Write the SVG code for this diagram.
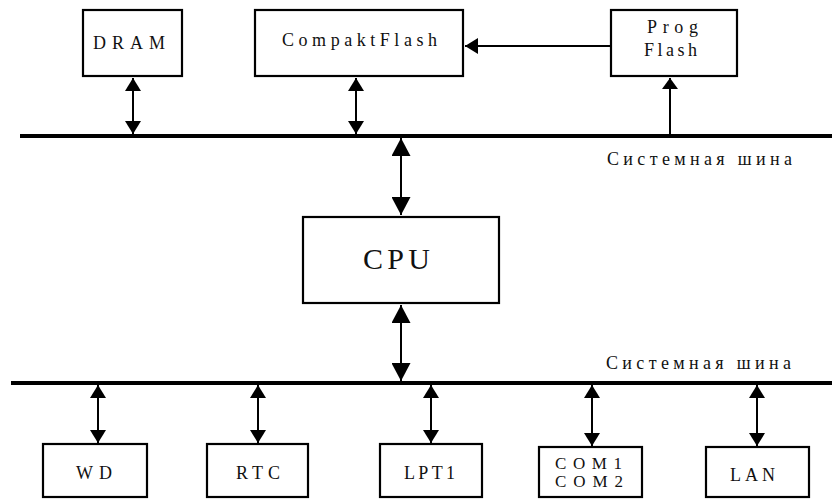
<svg xmlns="http://www.w3.org/2000/svg" width="832" height="499" viewBox="0 0 832 499">
<style>
.box{fill:#fff;stroke:#000;stroke-width:2.2}
.bus{stroke:#000;stroke-width:4}
.ln{stroke:#000;stroke-width:2;fill:none}
</style>
<defs>
<marker id="a" markerUnits="userSpaceOnUse" markerWidth="13" markerHeight="16" refX="13" refY="8" orient="auto-start-reverse"><path d="M0,0 L13,8 L0,16 z" fill="#000"/></marker>
<marker id="b" markerUnits="userSpaceOnUse" markerWidth="18" markerHeight="19" refX="18" refY="9.5" orient="auto-start-reverse"><path d="M0,0 L18,9.5 L0,19 z" fill="#000"/></marker>
<marker id="c" markerUnits="userSpaceOnUse" markerWidth="11" markerHeight="16" refX="11" refY="8" orient="auto-start-reverse"><path d="M0,0 L11,8 L0,16 z" fill="#000"/></marker>
</defs>
<g font-family="Liberation Serif, Times New Roman, serif" font-size="18" fill="#111">
<g id="buses">
<line class="bus" x1="20" y1="136" x2="832" y2="136"/>
<line class="bus" x1="11" y1="383" x2="832" y2="383"/>
<text id="bus1-label" x="607" y="165" textLength="185" lengthAdjust="spacing">Системная шина</text>
<text id="bus2-label" x="606" y="369" textLength="185" lengthAdjust="spacing">Системная шина</text>
</g>
<g id="connectors">
<line class="ln" x1="133" y1="78" x2="133" y2="134" marker-start="url(#a)" marker-end="url(#a)"/>
<line class="ln" x1="356" y1="78" x2="356" y2="134" marker-start="url(#a)" marker-end="url(#a)"/>
<line class="ln" x1="670" y1="134" x2="670" y2="78" marker-end="url(#c)"/>
<line class="ln" x1="610" y1="46" x2="465" y2="46" marker-end="url(#a)"/>
<line class="ln" x1="401" y1="138" x2="401" y2="215" marker-start="url(#b)" marker-end="url(#b)"/>
<line class="ln" x1="401" y1="305" x2="401" y2="381" marker-start="url(#b)" marker-end="url(#b)"/>
<line class="ln" x1="98" y1="385" x2="98" y2="443" marker-start="url(#a)" marker-end="url(#a)"/>
<line class="ln" x1="258" y1="385" x2="258" y2="443" marker-start="url(#a)" marker-end="url(#a)"/>
<line class="ln" x1="431" y1="385" x2="431" y2="443" marker-start="url(#a)" marker-end="url(#a)"/>
<line class="ln" x1="592" y1="385" x2="592" y2="446" marker-start="url(#a)" marker-end="url(#a)"/>
<line class="ln" x1="757" y1="385" x2="757" y2="446" marker-start="url(#a)" marker-end="url(#a)"/>
</g>
<g id="dram"><rect class="box" x="83" y="10" width="99" height="66"/><text x="93" y="49" textLength="72" lengthAdjust="spacing">DRAM</text></g>
<g id="compaktflash"><rect class="box" x="255" y="10" width="208" height="66"/><text x="282" y="46" textLength="155" lengthAdjust="spacing">CompaktFlash</text></g>
<g id="progflash"><rect class="box" x="611" y="10" width="126" height="66"/><text x="647" y="33" textLength="51" lengthAdjust="spacing">Prog</text><text x="644" y="56" textLength="53" lengthAdjust="spacing">Flash</text></g>
<g id="cpu"><rect class="box" x="303" y="217" width="196" height="86"/><text x="363" y="269" font-size="30" textLength="67" lengthAdjust="spacing">CPU</text></g>
<g id="wd"><rect class="box" x="43" y="444" width="104" height="53"/><text x="76" y="479" textLength="36" lengthAdjust="spacing">WD</text></g>
<g id="rtc"><rect class="box" x="207" y="444" width="101" height="53"/><text x="236" y="479" textLength="44" lengthAdjust="spacing">RTC</text></g>
<g id="lpt1"><rect class="box" x="380" y="444" width="102" height="53"/><text x="404" y="479" textLength="51" lengthAdjust="spacing">LPT1</text></g>
<g id="com"><rect class="box" x="539" y="447" width="103" height="50"/><text x="555" y="469" font-size="17" textLength="67" lengthAdjust="spacing">COM1</text><text x="555" y="487" font-size="17" textLength="68" lengthAdjust="spacing">COM2</text></g>
<g id="lan"><rect class="box" x="706" y="447" width="103" height="50"/><text x="730" y="481" textLength="45" lengthAdjust="spacing">LAN</text></g>
</g>
</svg>
